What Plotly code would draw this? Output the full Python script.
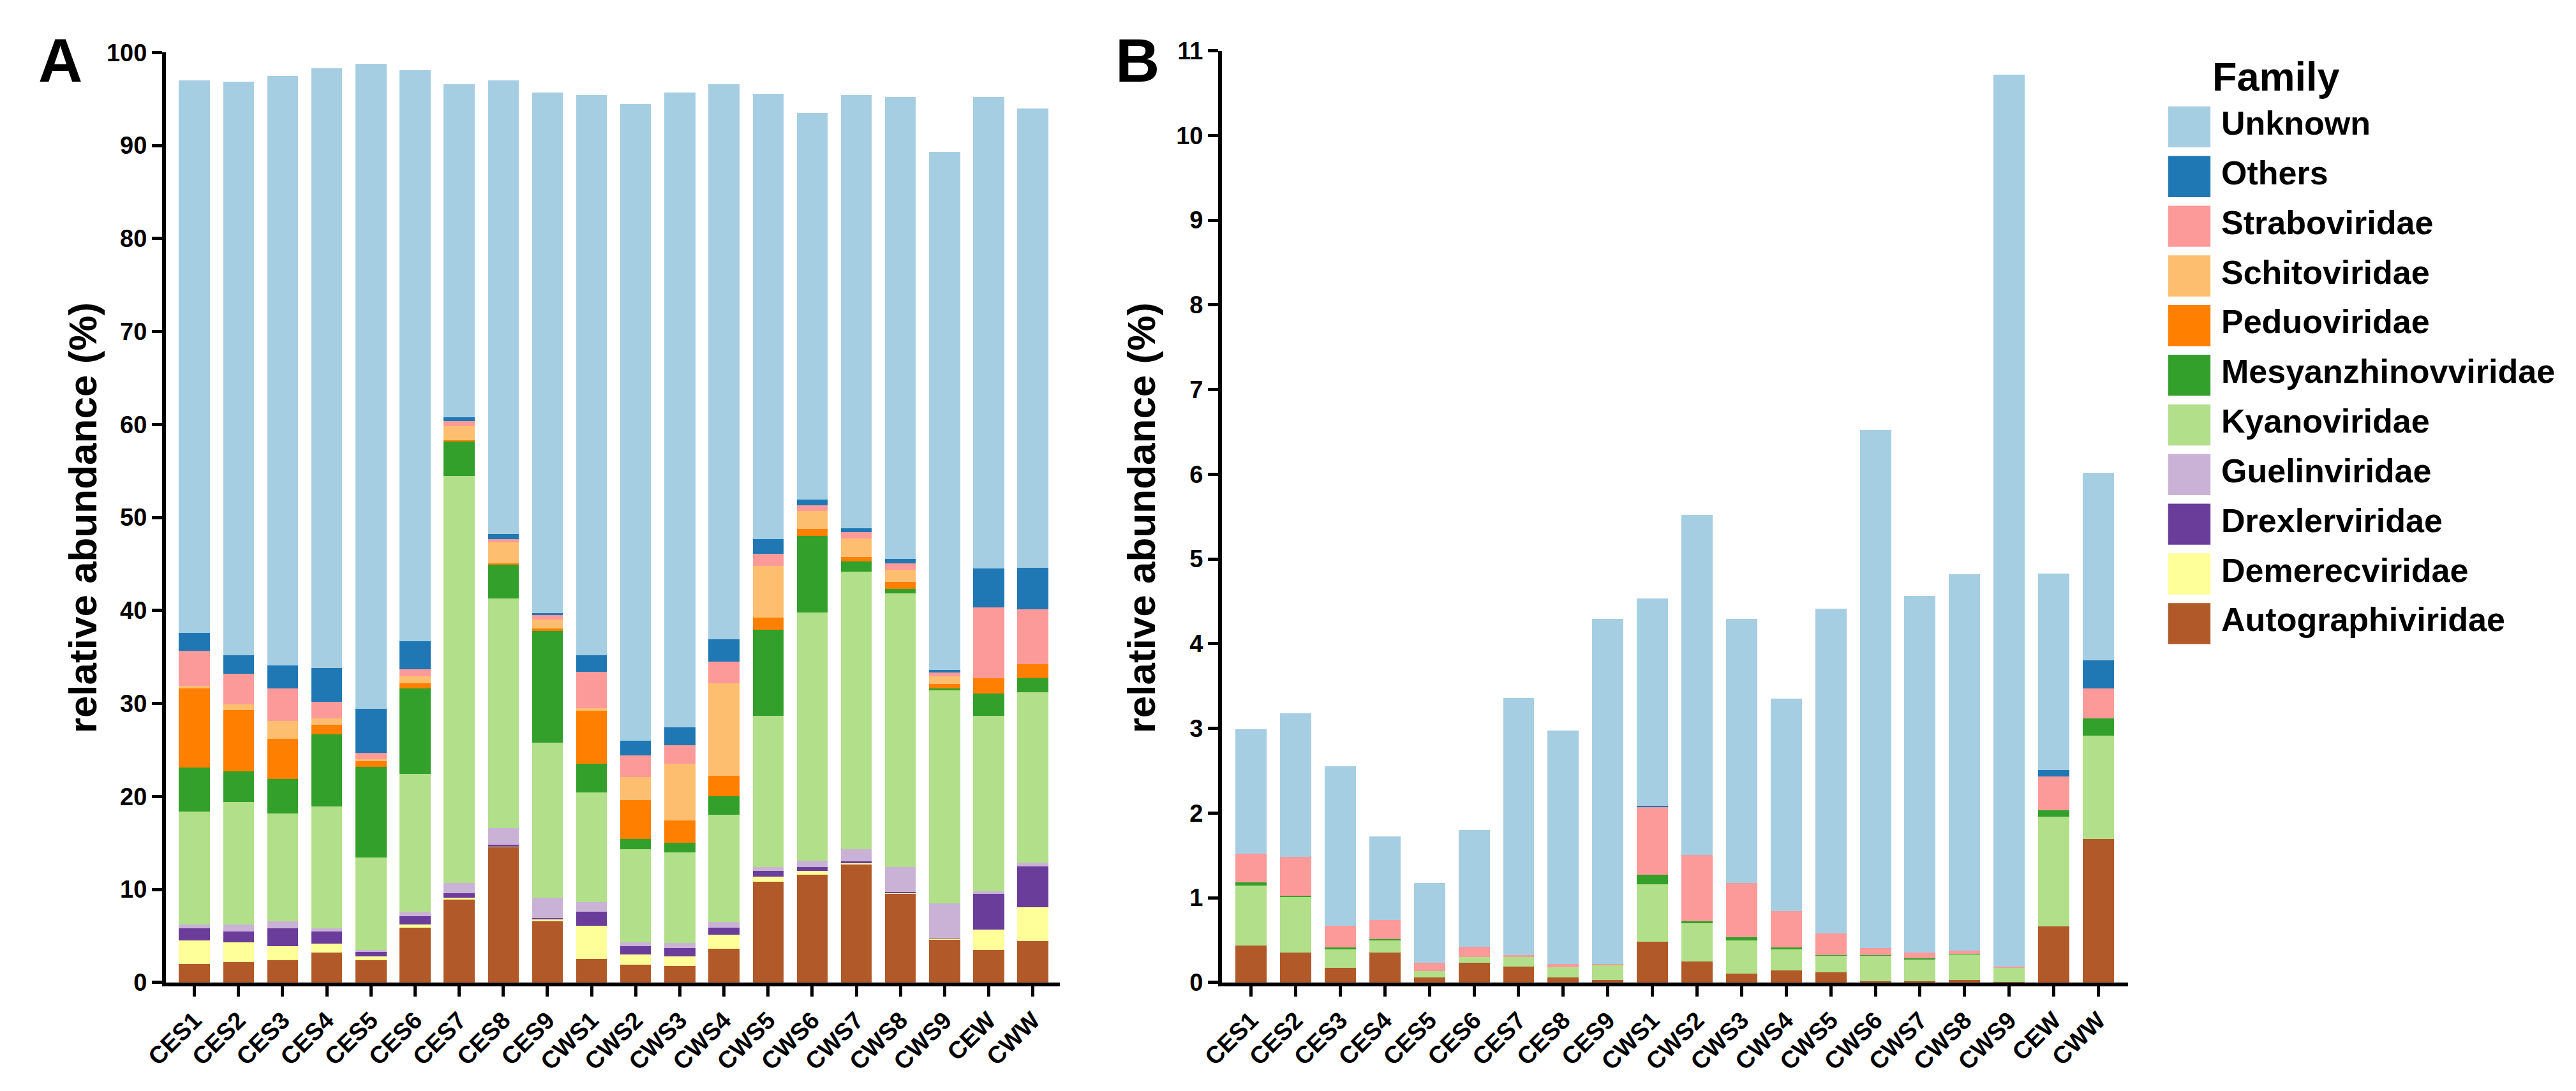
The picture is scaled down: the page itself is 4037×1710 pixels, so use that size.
import plotly.graph_objects as go

W, H = 4037, 1710

samples = ["CES1", "CES2", "CES3", "CES4", "CES5", "CES6", "CES7", "CES8", "CES9",
           "CWS1", "CWS2", "CWS3", "CWS4", "CWS5", "CWS6", "CWS7", "CWS8", "CWS9",
           "CEW", "CWW"]

# stacking order: bottom -> top
families = ["Autographiviridae", "Demerecviridae", "Drexlerviridae", "Guelinviridae",
            "Kyanoviridae", "Mesyanzhinovviridae", "Peduoviridae", "Schitoviridae",
            "Straboviridae", "Others", "Unknown"]

colors = {
    "Unknown": "#A6CEE3",
    "Others": "#1F78B4",
    "Straboviridae": "#FB9A99",
    "Schitoviridae": "#FDBF6F",
    "Peduoviridae": "#FF7F00",
    "Mesyanzhinovviridae": "#33A02C",
    "Kyanoviridae": "#B2DF8A",
    "Guelinviridae": "#CAB2D6",
    "Drexlerviridae": "#6A3D9A",
    "Demerecviridae": "#FFFF99",
    "Autographiviridae": "#B15928",
}

# ---- Panel A: relative abundance (%) ----
A_autographiviridae = [2.0, 2.2, 2.4, 3.2, 2.4, 5.9, 8.9, 14.5, 6.6, 2.5, 1.9, 1.75, 3.6, 10.8, 11.6, 12.7, 9.5, 4.6, 3.5, 4.45]
A_demerecviridae = [2.5, 2.1, 1.5, 1.0, 0.4, 0.3, 0.2, 0.1, 0.2, 3.6, 1.1, 1.05, 1.5, 0.6, 0.4, 0.1, 0.1, 0.15, 2.15, 3.65]
A_drexlerviridae = [1.3, 1.2, 1.9, 1.3, 0.5, 0.9, 0.5, 0.2, 0.1, 1.5, 0.9, 0.9, 0.8, 0.6, 0.4, 0.25, 0.15, 0.05, 3.85, 4.4]
A_guelinviridae = [0.4, 0.7, 0.8, 0.3, 0.2, 0.5, 1.1, 1.8, 2.2, 1.0, 0.4, 0.55, 0.6, 0.4, 0.7, 1.25, 2.65, 3.7, 0.3, 0.4]
A_kyanoviridae = [12.2, 13.2, 11.6, 13.1, 9.9, 14.8, 43.75, 24.7, 16.7, 11.8, 10.0, 9.75, 11.5, 16.3, 26.7, 29.9, 29.45, 22.9, 18.9, 18.3]
A_mesyanzhinovviridae = [4.7, 3.3, 3.7, 7.8, 9.8, 9.2, 3.75, 3.6, 12.0, 3.1, 1.1, 1.0, 2.0, 9.2, 8.2, 1.1, 0.45, 0.2, 2.35, 1.5]
A_peduoviridae = [8.5, 6.6, 4.3, 1.0, 0.6, 0.6, 0.1, 0.2, 0.3, 5.7, 4.2, 2.4, 2.2, 1.3, 0.8, 0.45, 0.8, 0.5, 1.65, 1.5]
A_schitoviridae = [0.3, 0.6, 1.9, 0.7, 0.2, 0.7, 1.5, 2.25, 0.9, 0.3, 2.5, 6.1, 10.0, 5.6, 1.9, 2.0, 1.25, 0.8, 0.0, 0.0]
A_straboviridae = [3.8, 3.3, 3.5, 1.8, 0.7, 0.8, 0.6, 0.35, 0.5, 3.9, 2.3, 2.0, 2.3, 1.3, 0.6, 0.7, 0.7, 0.4, 7.6, 5.9]
A_others = [1.9, 2.0, 2.5, 3.6, 4.7, 3.0, 0.4, 0.5, 0.2, 1.8, 1.6, 1.9, 2.4, 1.6, 0.6, 0.4, 0.5, 0.3, 4.2, 4.5]
A_unknown = [59.4, 61.65, 63.4, 64.5, 69.4, 61.4, 35.8, 48.8, 56.0, 60.2, 68.5, 68.3, 59.7, 47.9, 41.6, 46.55, 49.65, 55.7, 50.7, 49.4]

# ---- Panel B: relative abundance (%) ----
B_autographiviridae = [0.435, 0.35, 0.17, 0.35, 0.055, 0.23, 0.19, 0.055, 0.025, 0.48, 0.25, 0.105, 0.14, 0.12, 0.015, 0.015, 0.025, 0.005, 0.66, 1.69]
B_demerecviridae = [0.0] * 20
B_drexlerviridae = [0.0] * 20
B_guelinviridae = [0.0] * 20
B_kyanoviridae = [0.71, 0.66, 0.23, 0.15, 0.075, 0.07, 0.12, 0.125, 0.175, 0.675, 0.45, 0.39, 0.26, 0.20, 0.305, 0.265, 0.31, 0.165, 1.295, 1.22]
B_mesyanzhinovviridae = [0.035, 0.015, 0.015, 0.01, 0.0, 0.0, 0.0, 0.0, 0.0, 0.12, 0.02, 0.04, 0.01, 0.005, 0.003, 0.005, 0.003, 0.0, 0.075, 0.21]
B_peduoviridae = [0.0] * 20
B_schitoviridae = [0.0] * 20
B_straboviridae = [0.34, 0.46, 0.25, 0.23, 0.10, 0.12, 0.015, 0.04, 0.02, 0.805, 0.785, 0.64, 0.43, 0.25, 0.08, 0.07, 0.04, 0.02, 0.40, 0.35]
B_others = [0.0, 0.0, 0.0, 0.0, 0.0, 0.0, 0.0, 0.0, 0.0, 0.005, 0.0, 0.0, 0.0, 0.0, 0.0, 0.0, 0.0, 0.0, 0.08, 0.33]
B_unknown = [1.47, 1.69, 1.89, 0.98, 0.94, 1.38, 3.03, 2.75, 4.07, 2.445, 4.015, 3.12, 2.51, 3.835, 6.12, 4.21, 4.44, 10.53, 2.32, 2.22]

A_values = dict(zip(families, [A_autographiviridae, A_demerecviridae, A_drexlerviridae, A_guelinviridae,
                               A_kyanoviridae, A_mesyanzhinovviridae, A_peduoviridae, A_schitoviridae,
                               A_straboviridae, A_others, A_unknown]))
B_values = dict(zip(families, [B_autographiviridae, B_demerecviridae, B_drexlerviridae, B_guelinviridae,
                               B_kyanoviridae, B_mesyanzhinovviridae, B_peduoviridae, B_schitoviridae,
                               B_straboviridae, B_others, B_unknown]))

A_ticks = list(range(0, 101, 10))
B_ticks = list(range(0, 12, 1))

FONT = "Liberation Sans, Arial, Helvetica, sans-serif"


def fx(px):
    return px / W


def fy(py):
    return 1 - py / H


fig = go.Figure()
for fam in families:
    fig.add_trace(go.Bar(x=samples, y=A_values[fam], name=fam, xaxis="x", yaxis="y",
                         marker=dict(color=colors[fam], line=dict(width=0)), showlegend=False))
for fam in families:
    fig.add_trace(go.Bar(x=samples, y=B_values[fam], name=fam, xaxis="x2", yaxis="y2",
                         marker=dict(color=colors[fam], line=dict(width=0)), showlegend=False))

tickfont = dict(family=FONT, size=38, color="black", weight="bold")
axis_common = dict(showline=True, linewidth=6, linecolor="black", ticks="outside",
                   ticklen=16, tickwidth=5, tickcolor="black", showgrid=False,
                   zeroline=False, tickfont=tickfont, mirror=False)

fig.update_layout(
    width=W, height=H,
    margin=dict(l=0, r=0, t=0, b=0),
    paper_bgcolor="white", plot_bgcolor="white",
    barmode="stack", bargap=0.3,
    showlegend=False,
    xaxis=dict(domain=[fx(226), fx(1640)], range=[-0.646, 19.617], type="category",
               tickangle=-45, anchor="y", **axis_common),
    yaxis=dict(domain=[fy(1557), fy(63)], range=[0, 100], tickvals=A_ticks,
               anchor="x", **axis_common),
    xaxis2=dict(domain=[fx(1896), fx(3329)], range=[-0.652, 19.67], type="category",
                tickangle=-45, anchor="y2", **axis_common),
    yaxis2=dict(domain=[fy(1557), fy(60)], range=[0, 11], tickvals=B_ticks,
                anchor="x2", **axis_common),
)

annotations = []
# panel letters
annotations.append(dict(text="A", x=fx(22), y=fy(75), xref="paper", yref="paper",
                        xanchor="left", yanchor="middle", showarrow=False,
                        font=dict(family=FONT, size=96, color="black", weight="bold")))
annotations.append(dict(text="B", x=fx(1725), y=fy(75), xref="paper", yref="paper",
                        xanchor="left", yanchor="middle", showarrow=False,
                        font=dict(family=FONT, size=96, color="black", weight="bold")))
# y titles
for xc in (94, 1768):
    annotations.append(dict(text="relative abundance (%)", x=fx(xc), y=fy(811),
                            xref="paper", yref="paper", xanchor="center", yanchor="middle",
                            textangle=-90, showarrow=False,
                            font=dict(family=FONT, size=62, color="black", weight="bold")))

# legend (drawn manually to match large swatches)
legend_order = list(reversed(families))
annotations.append(dict(text="Family", x=fx(3460), y=fy(101), xref="paper", yref="paper",
                        xanchor="left", yanchor="middle", showarrow=False,
                        font=dict(family=FONT, size=63, color="black", weight="bold")))
shapes = []
for i, fam in enumerate(legend_order):
    cy = 182.4 + i * 79.8
    shapes.append(dict(type="rect", xref="paper", yref="paper",
                       x0=fx(3392), x1=fx(3459), y0=fy(cy + 33), y1=fy(cy - 33),
                       fillcolor=colors[fam], line=dict(width=0)))
    annotations.append(dict(text=fam, x=fx(3474), y=fy(cy - 6), xref="paper", yref="paper",
                            xanchor="left", yanchor="middle", showarrow=False,
                            font=dict(family=FONT, size=52, color="black", weight="bold")))

fig.update_layout(annotations=annotations, shapes=shapes)

fig.write_html("out.html", config={"displayModeBar": False},
               post_script="document.body.style.margin='0';")
